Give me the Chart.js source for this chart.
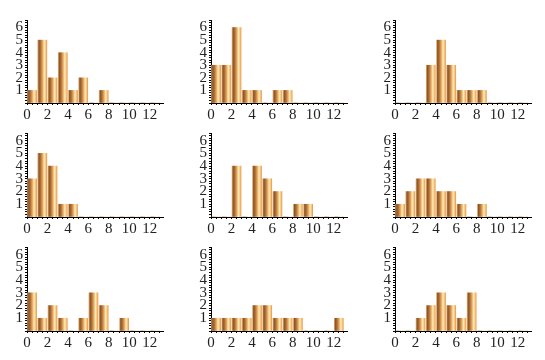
<!DOCTYPE html>
<html><head><meta charset="utf-8">
<script src="https://cdn.jsdelivr.net/npm/chart.js@4"></script>
<style>
html,body{margin:0;padding:0;background:#fff;}
#wrap{position:relative;width:545px;height:360px;overflow:hidden;}
canvas{position:absolute;}
</style></head>
<body><div id="wrap"></div>
<script>
// Bin counts for bins [0,1), [1,2), ... [12,13)
const bins = [0,1,2,3,4,5,6,7,8,9,10,11,12];
const counts1 = [1,5,2,4,1,2,0,1,0,0,0,0,0];
const counts2 = [3,3,6,1,1,0,1,1,0,0,0,0,0];
const counts3 = [0,0,0,3,5,3,1,1,1,0,0,0,0];
const counts4 = [3,5,4,1,1,0,0,0,0,0,0,0,0];
const counts5 = [0,0,4,0,4,3,2,0,1,1,0,0,0];
const counts6 = [1,2,3,3,2,2,1,0,1,0,0,0,0];
const counts7 = [3,1,2,1,0,1,3,2,0,1,0,0,0];
const counts8 = [1,1,1,1,2,2,1,1,1,0,0,0,1];
const counts9 = [0,0,1,2,3,2,1,3,0,0,0,0,0];
const xTickLabels = ['0','2','4','6','8','10','12'];
const yTickLabels = ['1','2','3','4','5','6'];

const panels = [counts1,counts2,counts3,counts4,counts5,counts6,counts7,counts8,counts9];
const wrap = document.getElementById('wrap');
const CW = 184, CH = 124;

function barFill(c){
  const chart = c.chart;
  const xs = chart.scales && chart.scales.x;
  const raw = c.raw;
  if(!xs || !raw) return '#e0a060';
  const px = xs.getPixelForValue(raw.x);
  if(!isFinite(px)) return '#e0a060';
  const x0 = px - 4.5;
  const x1 = x0 + 9;
  const g = chart.ctx.createLinearGradient(x0,0,x1,0);
  g.addColorStop(0.0,'#dca564');
  g.addColorStop(0.12,'#8a5529');
  g.addColorStop(0.3,'#ad6e38');
  g.addColorStop(0.5,'#e0a05a');
  g.addColorStop(0.72,'#ffecb4');
  g.addColorStop(0.88,'#f8c47e');
  g.addColorStop(1.0,'#e69e55');
  return g;
}

const fontSpec = { family: '"Liberation Serif", "DejaVu Serif", serif', size: 15 };

panels.forEach((counts, idx) => {
  const row = Math.floor(idx/3), col = idx%3;
  const cv = document.createElement('canvas');
  cv.width = CW; cv.height = CH;
  cv.style.width = CW+'px'; cv.style.height = CH+'px';
  cv.style.left = (col*184)+'px';
  cv.style.top = (row*114)+'px';
  wrap.appendChild(cv);
  const data = bins.map((b,i) => ({x: b+0.5, y: counts[i]}));
  new Chart(cv, {
    type: 'bar',
    data: { datasets: [{ data: data, backgroundColor: barFill, borderWidth: 0, barThickness: 9 }] },
    options: {
      responsive: false, animation: false, devicePixelRatio: 1,
      layout: { padding: { top: row===0 ? 20 : 19, right: 21, left: 0, bottom: 0 } },
      plugins: { legend: {display:false}, tooltip: {enabled:false} },
      scales: {
        x: {
          type: 'linear', min: 0, max: 13.3, offset: false,
          afterFit: s => { s.height = CH - 103; },
          border: { display: true, color: '#000', width: 1 },
          grid: { drawOnChartArea: false, offset: false, tickLength: 2, tickColor: '#000' },
          ticks: {
            stepSize: 0.5, includeBounds: false, autoSkip: false, maxRotation: 0, padding: 1,
            color: '#222', font: fontSpec,
            callback: v => { const r = Math.round(v*2)/2; const s = String(r); return xTickLabels.includes(s) ? s : ''; }
          }
        },
        y: {
          min: 0, max: 6.6,
          afterFit: s => { s.width = 27; },
          border: { display: true, color: '#000', width: 1 },
          grid: { drawOnChartArea: false, tickLength: 2, tickColor: '#000' },
          ticks: {
            stepSize: 0.2, autoSkip: false, padding: 2,
            color: '#222', font: fontSpec,
            callback: v => { const r = Math.round(v*10)/10; const s = String(r); return yTickLabels.includes(s) ? s : ''; }
          }
        }
      }
    }
  });
});
</script></body></html>
